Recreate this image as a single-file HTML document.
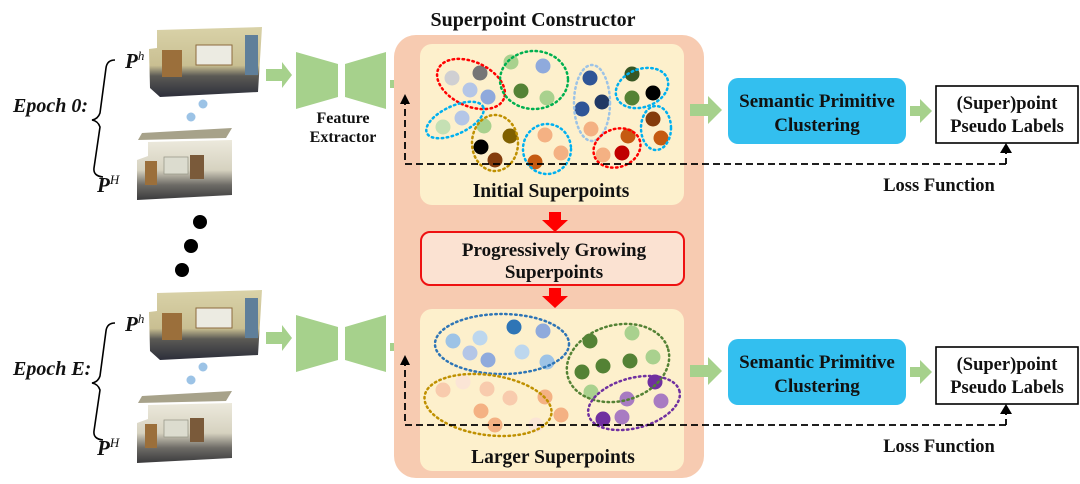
<!DOCTYPE html>
<html><head><meta charset="utf-8"><style>
html,body{margin:0;padding:0;background:#fff;}
svg{display:block;}
text{font-family:"Liberation Serif",serif;font-weight:bold;fill:#111;}
</style></head><body>
<svg width="1080" height="484" viewBox="0 0 1080 484" xmlns="http://www.w3.org/2000/svg">
<defs>
<linearGradient id="room" x1="0" y1="0" x2="0" y2="1">
<stop offset="0" stop-color="#d9d2a8"/><stop offset="0.55" stop-color="#c9bf92"/><stop offset="0.7" stop-color="#5b5a55"/><stop offset="1" stop-color="#2c2e3a"/></linearGradient>
<linearGradient id="room2" x1="0" y1="0" x2="0" y2="1">
<stop offset="0" stop-color="#ece9dc"/><stop offset="0.5" stop-color="#d6d2c0"/><stop offset="0.75" stop-color="#6d6b66"/><stop offset="1" stop-color="#3a3a3c"/></linearGradient>
<g id="left">
  <path d="M115,60 q-8,0 -9,8 l-6,45 q-2,6 -8,7 q6,1 8,7 l-6,41 q-1,8 9,9" fill="none" stroke="#000" stroke-width="1.6"/>
  <text x="125" y="68" font-size="21" font-style="italic">P<tspan font-size="13" dy="-8" font-style="italic" font-weight="normal">h</tspan></text>
  <text x="97" y="192" font-size="21" font-style="italic">P<tspan font-size="13" dy="-8" font-style="italic" font-weight="normal">H</tspan></text>
  <path d="M157,30 L262,27 L258,92 L160,97 L150,88 L149,49 L157,48 z" fill="url(#room)"/>
  <rect x="196" y="45" width="36" height="20" fill="#ecebe2" stroke="#8c6a3d" stroke-width="1"/>
  <rect x="162" y="50" width="20" height="27" fill="#9b6f3b"/>
  <rect x="245" y="35" width="13" height="40" fill="#5f7f9a"/>
  <path d="M142,133 L232,128 L226,138 L138,140 z" fill="#a7a28a"/>
  <path d="M148,142 L232,140 L232,195 L137,200 L137,160 L148,156 z" fill="url(#room2)"/>
  <rect x="164" y="157" width="24" height="17" fill="#dcdccf" stroke="#9a9a8a" stroke-width="0.8"/>
  <rect x="190" y="155" width="14" height="24" fill="#7a5a3a"/>
  <rect x="145" y="161" width="12" height="24" fill="#9b6f3b"/>
  <circle cx="203" cy="104" r="4.5" fill="#9cc3e6"/>
  <circle cx="191" cy="117" r="4.5" fill="#9cc3e6"/>
  <path d="M296,52 L338,64 L338,97 L296,109 z" fill="#a6d18c"/>
  <path d="M345,64 L386,52 L386,109 L345,97 z" fill="#a6d18c"/>
  <path d="M266,69 h16 v-7 l10,13 l-10,13 v-7 h-16 z" fill="#a6d18c"/>
  <path d="M390,80 h10 v-7 l10,11 l-10,11 v-7 h-10 z" fill="#a6d18c"/>
</g>
<g id="right">
<path d="M690,104 h18 v-8 l14,14 l-14,14 v-8 h-18 z" fill="#a6d18c"/>
<rect x="728" y="78" width="178" height="66" rx="10" fill="#33bfef"/>
<text x="817" y="107" font-size="19" text-anchor="middle">Semantic Primitive</text>
<text x="817" y="131" font-size="19" text-anchor="middle">Clustering</text>
<path d="M910,106 h10 v-7 l12,12 l-12,12 v-7 h-10 z" fill="#a6d18c"/>
<rect x="936" y="86" width="142" height="57" fill="#fff" stroke="#000" stroke-width="1.6"/>
<text x="1007" y="109" font-size="18.5" text-anchor="middle">(Super)point</text>
<text x="1007" y="132" font-size="18.5" text-anchor="middle">Pseudo Labels</text>
<path d="M1006,164 L1006,151" stroke="#000" stroke-width="1.8" stroke-dasharray="6 4"/>
<path d="M1000,153 L1006,143 L1012,153 z" fill="#000"/>
<path d="M1006,164 L405,164 L405,104" fill="none" stroke="#000" stroke-width="1.8" stroke-dasharray="7 4"/>
<path d="M400,104 L405,94 L410,104 z" fill="#000"/>
<text x="939" y="191" font-size="18.5" text-anchor="middle">Loss Function</text>
</g>
</defs>
<use href="#left"/>
<g transform="translate(0,263)"><use href="#left"/></g>
<text x="13" y="112" font-size="20" font-style="italic">Epoch 0:</text>
<text x="13" y="375" font-size="20" font-style="italic">Epoch E:</text>
<text x="343" y="123" font-size="16" text-anchor="middle">Feature</text>
<text x="343" y="142" font-size="16" text-anchor="middle">Extractor</text>
<circle cx="200" cy="222" r="7" fill="#000"/>
<circle cx="191" cy="246" r="7" fill="#000"/>
<circle cx="182" cy="270" r="7" fill="#000"/>

<text x="533" y="26" font-size="20" text-anchor="middle">Superpoint Constructor</text>
<rect x="394" y="35" width="310" height="443" rx="22" fill="#f7cbb1"/>
<rect x="420" y="44" width="264" height="161" rx="12" fill="#fdf0cc"/>
<rect x="420" y="309" width="264" height="162" rx="12" fill="#fdf0cc"/>
<text x="551" y="197" font-size="19.5" text-anchor="middle">Initial Superpoints</text>
<text x="553" y="463" font-size="19.5" text-anchor="middle">Larger  Superpoints</text>
<path d="M549,212 h12 v8 h7 l-13,12 l-13,-12 h7 z" fill="#f00"/>
<path d="M549,288 h12 v8 h7 l-13,12 l-13,-12 h7 z" fill="#f00"/>
<rect x="421" y="232" width="263" height="53" rx="9" fill="#fbe2d2" stroke="#e11" stroke-width="2"/>
<text x="554" y="256" font-size="19" text-anchor="middle">Progressively Growing</text>
<text x="554" y="278" font-size="19" text-anchor="middle">Superpoints</text>

<g>
<circle cx="452" cy="78" r="7.5" fill="#cfcfd2"/><circle cx="480" cy="73" r="7.5" fill="#767676"/><circle cx="470" cy="90" r="7.5" fill="#b4c6e7"/><circle cx="488" cy="97" r="7.5" fill="#8fa9dc"/>
<circle cx="511" cy="62" r="7.5" fill="#a9d18e"/><circle cx="543" cy="66" r="7.5" fill="#8faadc"/><circle cx="521" cy="91" r="7.5" fill="#548235"/><circle cx="547" cy="98" r="7.5" fill="#a9d18e"/>
<circle cx="590" cy="78" r="7.5" fill="#2f5597"/><circle cx="582" cy="109" r="7.5" fill="#2f5597"/><circle cx="602" cy="102" r="7.5" fill="#203864"/><circle cx="591" cy="129" r="7.5" fill="#f4b183"/>
<circle cx="632" cy="74" r="7.5" fill="#375623"/><circle cx="653" cy="93" r="7.5" fill="#000"/><circle cx="632" cy="98" r="7.5" fill="#548235"/>
<circle cx="653" cy="119" r="7.5" fill="#843c0c"/><circle cx="661" cy="138" r="7.5" fill="#c55a11"/>
<circle cx="443" cy="127" r="7.5" fill="#c5e0b4"/><circle cx="462" cy="118" r="7.5" fill="#b4c6e7"/>
<circle cx="484" cy="126" r="7.5" fill="#a9d18e"/><circle cx="510" cy="136" r="7.5" fill="#7f6000"/><circle cx="481" cy="147" r="7.5" fill="#000"/><circle cx="495" cy="160" r="7.5" fill="#843c0c"/>
<circle cx="545" cy="135" r="7.5" fill="#f4b183"/><circle cx="561" cy="153" r="7.5" fill="#f4b183"/><circle cx="535" cy="162" r="7.5" fill="#c55a11"/>
<circle cx="628" cy="136" r="7.5" fill="#c55a11"/><circle cx="603" cy="155" r="7.5" fill="#f4b183"/><circle cx="622" cy="153" r="7.5" fill="#c00000"/>
</g>
<g fill="none" stroke-width="2.5" stroke-dasharray="1.5 3.5" stroke-linecap="round">
<ellipse cx="471" cy="84" rx="36" ry="22" transform="rotate(25 471 84)" stroke="#f00"/>
<ellipse cx="534" cy="80" rx="34" ry="29" stroke="#00b050"/>
<ellipse cx="592" cy="103" rx="18" ry="38" stroke="#9dc3e6"/>
<ellipse cx="642" cy="88" rx="27" ry="19" transform="rotate(-20 642 88)" stroke="#00b0f0"/>
<ellipse cx="455" cy="120" rx="31" ry="14" transform="rotate(-25 455 120)" stroke="#00b0f0"/>
<ellipse cx="495" cy="143" rx="23" ry="28" stroke="#bf9000"/>
<ellipse cx="547" cy="149" rx="24" ry="25" stroke="#00b0f0"/>
<ellipse cx="617" cy="148" rx="24" ry="19" transform="rotate(-20 617 148)" stroke="#f00"/>
<ellipse cx="656" cy="128" rx="15" ry="22" stroke="#00b0f0"/>
</g>
<g>
<circle cx="453" cy="341" r="7.5" fill="#9dc3e6"/><circle cx="480" cy="338" r="7.5" fill="#bdd7ee"/><circle cx="470" cy="353" r="7.5" fill="#b4c6e7"/><circle cx="488" cy="360" r="7.5" fill="#8faadc"/><circle cx="514" cy="327" r="7.5" fill="#2e75b6"/><circle cx="543" cy="331" r="7.5" fill="#8faadc"/><circle cx="522" cy="352" r="7.5" fill="#bdd7ee"/><circle cx="547" cy="362" r="7.5" fill="#9dc3e6"/>
<circle cx="590" cy="341" r="7.5" fill="#548235"/><circle cx="632" cy="333" r="7.5" fill="#a9d18e"/><circle cx="582" cy="372" r="7.5" fill="#548235"/><circle cx="603" cy="366" r="7.5" fill="#548235"/><circle cx="630" cy="361" r="7.5" fill="#548235"/><circle cx="653" cy="357" r="7.5" fill="#a9d18e"/><circle cx="591" cy="392" r="7.5" fill="#a9d18e"/>
<circle cx="443" cy="390" r="7.5" fill="#f8cbad"/><circle cx="463" cy="382" r="7.5" fill="#fbe5d6"/><circle cx="487" cy="389" r="7.5" fill="#f8cbad"/><circle cx="510" cy="398" r="7.5" fill="#f8cbad"/><circle cx="545" cy="397" r="7.5" fill="#f4b183"/><circle cx="481" cy="411" r="7.5" fill="#f4b183"/><circle cx="495" cy="425" r="7.5" fill="#f4b183"/><circle cx="536" cy="425" r="7.5" fill="#fbe5d6"/><circle cx="561" cy="415" r="7.5" fill="#f4b183"/>
<circle cx="655" cy="382" r="7.5" fill="#7030a0"/><circle cx="627" cy="399" r="7.5" fill="#a87bc2"/><circle cx="661" cy="401" r="7.5" fill="#a87bc2"/><circle cx="603" cy="419" r="7.5" fill="#7030a0"/><circle cx="622" cy="417" r="7.5" fill="#a87bc2"/>
</g>
<g fill="none" stroke-width="2.5" stroke-dasharray="1.5 3.5" stroke-linecap="round">
<ellipse cx="502" cy="344" rx="67" ry="30" stroke="#2e75b6"/>
<ellipse cx="618" cy="363" rx="52" ry="38" transform="rotate(-15 618 363)" stroke="#548235"/>
<ellipse cx="488" cy="405" rx="64" ry="30" transform="rotate(8 488 405)" stroke="#bf9000"/>
<ellipse cx="634" cy="403" rx="47" ry="25" transform="rotate(-15 634 403)" stroke="#7030a0"/>
</g>

<use href="#right"/>
<g transform="translate(0,261)"><use href="#right"/></g>
</svg>
</body></html>
